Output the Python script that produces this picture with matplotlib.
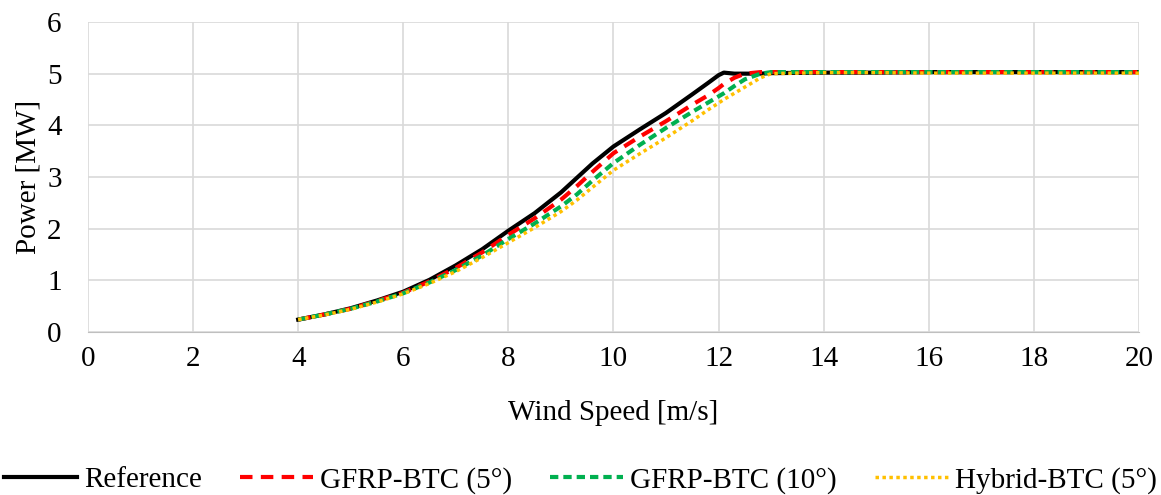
import matplotlib.pyplot as plt

plt.rcParams['font.family'] = ['Liberation Serif', 'DejaVu Serif']

wind = [4, 4.5, 5, 5.5, 6, 6.5, 7, 7.5, 8, 8.5, 9, 9.3, 9.6, 10, 10.5, 11, 11.5, 11.8, 12, 12.1, 12.3, 12.5, 12.8, 13, 14, 15, 16, 17, 18, 19, 20]
reference = [0.24, 0.34, 0.46, 0.61, 0.78, 1.01, 1.29, 1.6, 1.96, 2.3, 2.7, 2.98, 3.26, 3.59, 3.92, 4.24, 4.6, 4.82, 4.97, 5.02, 5.0, 5.0, 5.0, 5.01, 5.02, 5.02, 5.03, 5.03, 5.03, 5.03, 5.03]
gfrp5 = [0.24, 0.34, 0.45, 0.6, 0.76, 0.98, 1.24, 1.54, 1.88, 2.2, 2.56, 2.82, 3.1, 3.46, 3.78, 4.08, 4.4, 4.58, 4.72, 4.8, 4.92, 5.0, 5.03, 5.03, 5.03, 5.03, 5.03, 5.03, 5.03, 5.03, 5.03]
gfrp10 = [0.24, 0.34, 0.45, 0.59, 0.75, 0.96, 1.2, 1.48, 1.8, 2.1, 2.43, 2.66, 2.93, 3.27, 3.62, 3.95, 4.26, 4.44, 4.56, 4.62, 4.76, 4.89, 5.0, 5.03, 5.03, 5.03, 5.03, 5.03, 5.03, 5.03, 5.03]
hybrid5 = [0.24, 0.33, 0.44, 0.58, 0.74, 0.94, 1.17, 1.44, 1.73, 2.02, 2.33, 2.55, 2.8, 3.13, 3.45, 3.76, 4.09, 4.3, 4.43, 4.5, 4.62, 4.74, 4.92, 5.0, 5.02, 5.02, 5.01, 5.01, 5.01, 5.01, 5.01]

fig, ax = plt.subplots(figsize=(11.61, 4.95), dpi=100)
fig.subplots_adjust(left=0.0758, right=0.981, top=0.9556, bottom=0.3293)

ax.plot(wind, reference, color='black', lw=3, label='Reference')
ax.plot(wind, gfrp5, color='#ff0000', lw=3, dashes=(3, 2), label='GFRP-BTC (5°)')
ax.plot(wind, gfrp10, color='#00b050', lw=3, dashes=(2, 1.2), label='GFRP-BTC (10°)')
ax.plot(wind, hybrid5, color='#ffc000', lw=2.5, dashes=(1, 1), label='Hybrid-BTC (5°)')

ax.set_xlim(0, 20)
ax.set_ylim(0, 6)
ax.set_xticks(range(0, 21, 2))
ax.set_yticks(range(0, 7))
ax.grid(True, color='#d9d9d9', lw=1.2)
ax.set_axisbelow(True)
for s in ax.spines.values():
    s.set_visible(False)
ax.spines['bottom'].set_visible(True)
ax.spines['bottom'].set_color('#bfbfbf')
ax.tick_params(length=0, labelsize=21)
ax.tick_params(axis='x', pad=10)
ax.tick_params(axis='y', pad=19)
ax.set_xlabel('Wind Speed [m/s]', fontsize=21, labelpad=20)
ax.set_ylabel('Power [MW]', fontsize=21, labelpad=4)

fig.legend(*ax.get_legend_handles_labels(), loc='center', bbox_to_anchor=(0.5, 0.03), ncol=4,
           frameon=False, fontsize=21, handlelength=2.5, handletextpad=0.25, columnspacing=1.3)

fig.savefig('out.png')
